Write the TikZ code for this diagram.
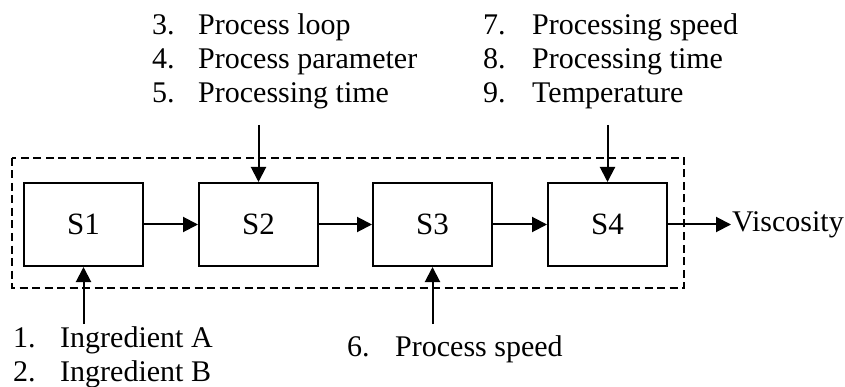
\documentclass[tikz,border=0pt]{standalone}
\usepackage{fontspec}
\setmainfont{Liberation Serif}
\usetikzlibrary{arrows.meta}
\begin{document}
\begin{tikzpicture}[x=1pt,y=-1pt,
  stage/.style={draw,line width=2pt,minimum width=119pt,minimum height=83pt,inner sep=0pt,font=\fontsize{31}{32}\selectfont},
  flow/.style={line width=2pt,-{Triangle[length=15pt,width=15pt]}},
  frame/.style={draw,line width=2pt,dash pattern=on 8pt off 4.5pt},
  lbl/.style={anchor=base west,inner sep=0pt,font=\fontsize{30}{32}\selectfont}]
\useasboundingbox (0,0) rectangle (845,387);
% dashed system boundary
\draw[frame] (12,158) rectangle (684,288);
% stages
\node[stage] (s1) at (83.5,224.5) {S1};
\node[stage] (s2) at (258.5,224.5) {S2};
\node[stage] (s3) at (432.5,224.5) {S3};
\node[stage] (s4) at (607.5,224.5) {S4};
% input/output points
\coordinate (in2) at (258.5,125);
\coordinate (in4) at (607.5,125);
\coordinate (in1) at (83.5,324);
\coordinate (in3) at (432.5,324);
\coordinate (out) at (731,224.5);
\draw[flow] (s1) -- (s2);
\draw[flow] (s2) -- (s3);
\draw[flow] (s3) -- (s4);
\draw[flow] (s4.east) -- (out);
\draw[flow] (in2) -- (s2.north);
\draw[flow] (in4) -- (s4.north);
\draw[flow] (in1) -- (s1.south);
\draw[flow] (in3) -- (s3.south);
\node[anchor=west,inner sep=1pt,font=\fontsize{30}{32}\selectfont] (visc) at (out) {Viscosity};
% factor lists
\node[lbl] (n3) at (152,35) {3.};  \node[lbl] (t3) at (198,35) {Process loop};
\node[lbl] (n4) at (152,69) {4.};  \node[lbl] (t4) at (198,69) {Process parameter};
\node[lbl] (n5) at (152,103) {5.}; \node[lbl] (t5) at (198,103) {Processing time};
\node[lbl] (n7) at (483,35) {7.};  \node[lbl] (t7) at (532,35) {Processing speed};
\node[lbl] (n8) at (483,69) {8.};  \node[lbl] (t8) at (532,69) {Processing time};
\node[lbl] (n9) at (483,103) {9.}; \node[lbl] (t9) at (532,103) {Temperature};
\node[lbl] (n1) at (13,347) {1.};  \node[lbl] (t1) at (60,347) {Ingredient A};
\node[lbl] (n2) at (13,381) {2.};  \node[lbl] (t2) at (60,381) {Ingredient B};
\node[lbl] (n6) at (347,356) {6.}; \node[lbl] (t6) at (395,356) {Process speed};
\end{tikzpicture}
\end{document}
